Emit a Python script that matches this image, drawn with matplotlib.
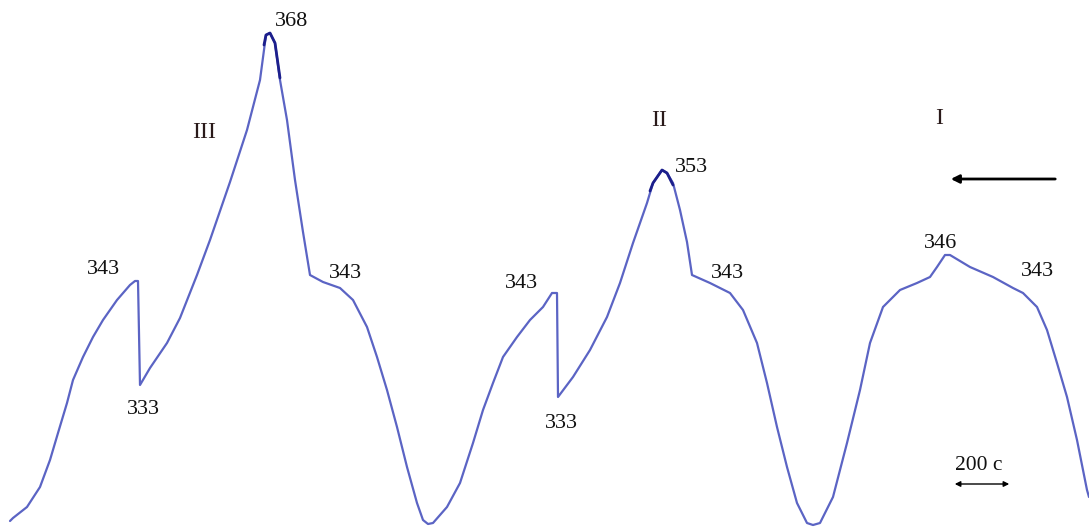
import numpy as np
import matplotlib.pyplot as plt

plt.rcParams['font.family'] = ['Liberation Serif', 'DejaVu Serif']

# thermogram trace (chart units: x along time, y downward)
trace_x = [10, 13, 27, 40, 50, 58, 67, 73, 83, 93, 103, 117, 130, 135, 138,
           140, 150, 167, 180, 197, 210, 230, 247, 260, 266, 270, 275, 280, 287,
           295, 303, 310, 323, 340, 353, 367, 377, 387, 397, 407, 417, 423, 428, 433,
           447, 460, 473, 483, 493, 503, 517, 530, 543, 552, 557,
           558, 573, 590, 607, 620, 633, 647, 653, 662, 667, 673, 680, 687, 692,
           710, 730, 743, 757, 767, 777, 787, 797, 807, 813, 820, 833, 847, 860,
           870, 883, 900, 917, 930, 937, 945, 950, 970, 993, 1013, 1023, 1037,
           1047, 1057, 1067, 1077, 1087, 1089]
trace_y = [521, 518, 507, 487, 460, 433, 403, 380, 357, 337, 320, 300, 285, 281, 281,
           385, 368, 343, 318, 275, 240, 182, 130, 80, 35, 33, 43, 80, 120,
           180, 232, 275, 282, 288, 300, 327, 357, 390, 427, 467, 503, 520, 524, 523,
           507, 483, 443, 410, 383, 357, 337, 320, 307, 293, 293,
           397, 377, 350, 317, 283, 243, 203, 183, 170, 173, 183, 210, 242, 275,
           283, 293, 310, 343, 383, 427, 467, 503, 523, 525, 523, 497, 443, 390,
           343, 307, 290, 283, 277, 267, 255, 255, 267, 277, 288, 293, 307,
           330, 363, 397, 440, 490, 497]

# darker ink over the peak tops
peak_x = [[264, 266, 270, 275, 280], [650, 653, 662, 667, 673]]
peak_y = [[45, 35, 33, 43, 78], [191, 183, 170, 173, 185]]

# temperature labels, K
temp_labels = ['343', '333', '368', '343', '343', '333', '353', '343', '346', '343']
temp_x = [103, 143, 292, 345, 521, 561, 691, 727, 941, 1037]
temp_y = [270, 410, 22, 273, 283, 423, 167, 274, 243, 271]

stage_labels = ['III', 'II', 'I']
stage_x = [204, 659, 939]
stage_y = [132, 121, 119]

fig = plt.figure(figsize=(10.89, 5.27), dpi=100)
ax = fig.add_axes([0, 0, 1, 1])
ax.set_xlim(0, 1089)
ax.set_ylim(527, 0)
ax.axis('off')

ax.plot(trace_x, trace_y, color='#5b64c4', lw=1.6,
        solid_joinstyle='round', solid_capstyle='round')
for px, py in zip(peak_x, peak_y):
    ax.plot(px, py, color='#1c1f8c', lw=2.0, solid_capstyle='round')

for s, x, y in zip(temp_labels, temp_x, temp_y):
    ax.text(x, y, s, fontsize=16, ha='center', va='center', color='#111111')
for s, x, y in zip(stage_labels, stage_x, stage_y):
    ax.text(x, y, s, fontsize=17, ha='center', va='center', color='#2a1a1a')

# direction arrow
ax.annotate('', xy=(948, 179), xytext=(1058, 179),
            arrowprops=dict(arrowstyle='-|>', color='black', lw=2.0,
                            mutation_scale=12))

# time scale bar
ax.annotate('', xy=(952, 484), xytext=(1012, 484),
            arrowprops=dict(arrowstyle='<|-|>', color='black', lw=1.0,
                            mutation_scale=8))
ax.text(979, 466, '200 с', fontsize=15.5, ha='center', va='center', color='#111111')

fig.savefig('out.png', dpi=100)
